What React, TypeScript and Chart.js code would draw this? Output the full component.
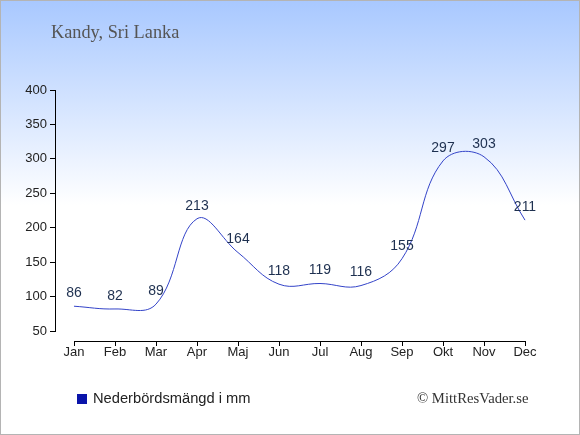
import React, { useEffect, useRef } from "react";
import { Chart, registerables } from "chart.js";

Chart.register(...registerables);

const months = ["Jan", "Feb", "Mar", "Apr", "Maj", "Jun", "Jul", "Aug", "Sep", "Okt", "Nov", "Dec"];
const rainfall = [86, 82, 89, 213, 164, 118, 119, 116, 155, 297, 303, 211];
const yTicks = [50, 100, 150, 200, 250, 300, 350, 400];

const title = "Kandy, Sri Lanka";
const legendLabel = "Nederbördsmängd i mm";
const credit = "© MittResVader.se";

const sans = "'Liberation Sans', Arial, sans-serif";
const serif = "'Liberation Serif', 'Times New Roman', serif";

export default function App() {
  const ref = useRef<HTMLCanvasElement | null>(null);

  useEffect(() => {
    if (!ref.current) return;

    const overlay = {
      id: "overlay",
      afterDraw(chart: any) {
        const ctx = chart.ctx;
        const xs = chart.scales.x;
        const ys = chart.scales.y;
        const area = chart.chartArea;
        ctx.save();
        const yLine = area.bottom + 10;
        ctx.strokeStyle = "#000";
        ctx.lineWidth = 1;
        ctx.beginPath();
        const x0 = Math.round(xs.getPixelForValue(0)) + 0.5;
        const x1 = Math.round(xs.getPixelForValue(months.length - 1)) + 0.5;
        ctx.moveTo(x0, yLine + 0.5);
        ctx.lineTo(x1, yLine + 0.5);
        months.forEach((_, i) => {
          const px = Math.round(xs.getPixelForValue(i)) + 0.5;
          ctx.moveTo(px, yLine);
          ctx.lineTo(px, yLine + 5);
        });
        ctx.stroke();
        ctx.fillStyle = "#1e3050";
        ctx.font = "14px " + sans;
        ctx.textAlign = "center";
        ctx.textBaseline = "middle";
        rainfall.forEach((v, i) => {
          const px = xs.getPixelForValue(i);
          const py = ys.getPixelForValue(v);
          ctx.fillText(String(v), px, py - 13);
        });
        ctx.restore();
      },
    };

    const chart = new Chart(ref.current, {
      type: "line",
      data: {
        datasets: [
          {
            label: legendLabel,
            data: rainfall.map((v, i) => ({ x: i, y: v })),
            borderColor: "#3343c8",
            borderWidth: 1,
            pointRadius: 0,
            tension: 0.4,
            fill: false,
            clip: false as any,
          },
        ],
      },
      options: {
        responsive: false,
        animation: false,
        devicePixelRatio: 1,
        layout: { padding: { top: 90, right: 55, bottom: 0, left: 0 } },
        plugins: {
          legend: { display: false },
          title: { display: false },
          tooltip: { enabled: false },
        },
        scales: {
          x: {
            type: "linear",
            min: -0.463,
            max: months.length - 1,
            afterFit: (s: any) => {
              s.height = 104;
            },
            afterBuildTicks: (s: any) => {
              s.ticks = months.map((_, i) => ({ value: i }));
            },
            grid: { display: false, drawTicks: false },
            border: { display: false },
            ticks: {
              padding: 14,
              color: "#222",
              font: { family: sans, size: 13 },
              maxRotation: 0,
              autoSkip: false,
              callback: (v: any) => months[v as number] ?? "",
            },
          },
          y: {
            min: 50,
            max: 400,
            afterFit: (s: any) => {
              s.width = 55;
            },
            afterBuildTicks: (s: any) => {
              s.ticks = yTicks.map((v) => ({ value: v }));
            },
            grid: {
              drawOnChartArea: false,
              drawTicks: true,
              tickLength: 5,
              color: "#000",
            },
            border: { display: true, color: "#000", width: 1 },
            ticks: {
              padding: 3,
              color: "#222",
              font: { family: sans, size: 13 },
            },
          },
        },
      },
      plugins: [overlay],
    });

    return () => chart.destroy();
  }, []);

  return (
    <div
      style={{
        position: "fixed",
        left: 0,
        top: 0,
        width: 580,
        height: 435,
        background: "linear-gradient(to bottom, #a8c8ff 0px, #ffffff 205px, #ffffff 435px)",
        overflow: "hidden",
      }}
    >
      <canvas
        ref={ref}
        width={580}
        height={435}
        style={{ position: "absolute", left: 0, top: 0, width: 580, height: 435 }}
      />
      <div
        style={{
          position: "absolute",
          left: 51,
          top: 19.5,
          fontFamily: serif,
          fontSize: 18.3,
          color: "#555",
          lineHeight: "24px",
          whiteSpace: "nowrap",
        }}
      >
        {title}
      </div>
      <div
        style={{
          position: "absolute",
          left: 77,
          top: 394,
          width: 10,
          height: 10,
          background: "#0a14aa",
        }}
      />
      <div
        style={{
          position: "absolute",
          left: 93,
          top: 389,
          fontFamily: sans,
          fontSize: 14.7,
          lineHeight: "18px",
          color: "#222",
          whiteSpace: "nowrap",
        }}
      >
        {legendLabel}
      </div>
      <div
        style={{
          position: "absolute",
          left: 417,
          top: 389,
          fontFamily: serif,
          fontSize: 14.7,
          lineHeight: "18px",
          color: "#333",
          whiteSpace: "nowrap",
        }}
      >
        {credit}
      </div>
      <div
        style={{
          position: "absolute",
          left: 0,
          top: 0,
          width: 580,
          height: 435,
          boxSizing: "border-box",
          border: "1px solid #b4b4b4",
          pointerEvents: "none",
        }}
      />
    </div>
  );
}
